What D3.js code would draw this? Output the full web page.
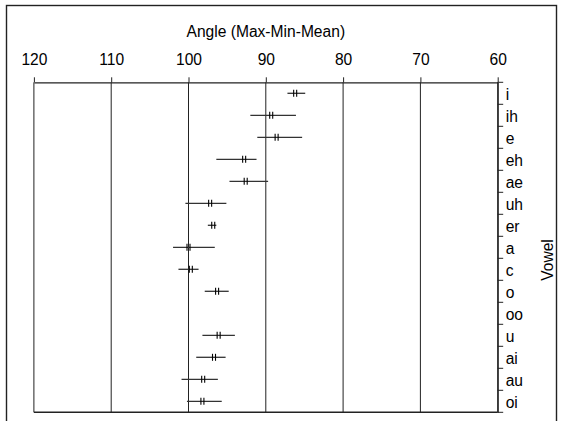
<!DOCTYPE html>
<html>
<head>
<meta charset="utf-8">
<script src="https://cdn.jsdelivr.net/npm/d3@7"></script>
<style>
  html, body { margin: 0; padding: 0; background: #fff; }
  svg { display: block; }
</style>
</head>
<body>
<svg id="chart" width="563" height="421"></svg>
<script>
// Data (angles in degrees)
const vowels = ["i","ih","e","eh","ae","uh","er","a","c","o","oo","u","ai","au","oi"];
const minVals  = [84.9, 86.1, 85.3, 91.2, 89.7, 95.1, 96.4, 96.6, 98.7, 94.8, null, 94.0, 95.2, 96.2, 95.7];
const maxVals  = [87.2, 92.0, 91.1, 96.4, 94.7, 100.4, 97.5, 102.0, 101.3, 97.9, null, 98.2, 99.0, 100.9, 100.2];
const meanVals = [86.2, 89.3, 88.6, 92.8, 92.6, 97.2, 96.8, 100.0, 99.7, 96.3, null, 96.1, 96.7, 98.1, 98.2];
const xTicks = [120, 110, 100, 90, 80, 70, 60];
const xTitle = "Angle (Max-Min-Mean)";
const yTitle = "Vowel";

const FONT = "'Liberation Sans', Arial, sans-serif";
const FS = 15.6;

const svg = d3.select("#chart");

// outer frame
svg.append("rect")
  .attr("x", 6.5).attr("y", 5.5)
  .attr("width", 550).attr("height", 430)
  .attr("fill", "none").attr("stroke", "#222").attr("stroke-width", 1.4);

const pL = 33.9, pR = 497.7, pT = 82.3, pB = 412.3;

const x = d3.scaleLinear().domain([120, 60]).range([pL, pR]);
const y = d3.scaleBand().domain(vowels).range([pT, pB]).paddingInner(0).paddingOuter(0);

// vertical grid lines
svg.append("g").selectAll("line")
  .data(xTicks)
  .join("line")
  .attr("x1", d => x(d)).attr("x2", d => x(d))
  .attr("y1", pT).attr("y2", pB)
  .attr("stroke", "#222").attr("stroke-width", 1);

// bottom line of plot
svg.append("line").attr("x1", pL).attr("x2", pR).attr("y1", pB).attr("y2", pB)
  .attr("stroke", "#222").attr("stroke-width", 1.6);

// top axis
const xAxis = svg.append("g")
  .attr("transform", `translate(0,${pT})`)
  .call(d3.axisTop(x).tickValues(xTicks).tickFormat(d3.format("d")).tickSize(5).tickPadding(12.5).tickSizeOuter(0));
xAxis.select(".domain").attr("stroke", "#222").attr("stroke-width", 1.2);
xAxis.selectAll(".tick line").attr("stroke", "#222");
xAxis.selectAll(".tick text").attr("font-family", FONT).attr("font-size", FS).attr("fill", "#000");

// right axis (labels centered in bands, ticks at band boundaries)
const yAxis = svg.append("g")
  .attr("transform", `translate(${pR},0)`)
  .call(d3.axisRight(y).tickSize(0).tickPadding(8));
yAxis.select(".domain").attr("stroke", "#222").attr("stroke-width", 1.2);
yAxis.selectAll(".tick text").attr("font-family", FONT).attr("font-size", FS).attr("fill", "#000").attr("dy", "0.42em");

const bounds = vowels.map(v => y(v)).concat([y(vowels[vowels.length - 1]) + y.bandwidth()]);
svg.append("g").selectAll("line")
  .data(bounds)
  .join("line")
  .attr("x1", pR).attr("x2", pR + 5.5)
  .attr("y1", d => d).attr("y2", d => d)
  .attr("stroke", "#222").attr("stroke-width", 1);

// error bars
const rows = vowels.map((v, i) => ({v, min: minVals[i], max: maxVals[i], mean: meanVals[i]}))
  .filter(d => d.mean !== null);

const bars = svg.append("g");
bars.selectAll("line.range")
  .data(rows)
  .join("line")
  .attr("class", "range")
  .attr("x1", d => x(d.max)).attr("x2", d => x(d.min))
  .attr("y1", d => y(d.v) + y.bandwidth() / 2).attr("y2", d => y(d.v) + y.bandwidth() / 2)
  .attr("stroke", "#333").attr("stroke-width", 1.3);

[-1.5, 1.5].forEach(off => {
  bars.append("g").selectAll("line")
    .data(rows)
    .join("line")
    .attr("x1", d => x(d.mean) + off).attr("x2", d => x(d.mean) + off)
    .attr("y1", d => y(d.v) + y.bandwidth() / 2 - 3.5)
    .attr("y2", d => y(d.v) + y.bandwidth() / 2 + 3.5)
    .attr("stroke", "#000").attr("stroke-width", 1.1);
});

// titles
svg.append("text")
  .attr("x", (pL + pR) / 2).attr("y", 36.5)
  .attr("text-anchor", "middle")
  .attr("font-family", FONT).attr("font-size", FS).attr("fill", "#000")
  .text(xTitle);

svg.append("text")
  .attr("transform", `translate(553,260) rotate(-90)`)
  .attr("text-anchor", "middle")
  .attr("font-family", FONT).attr("font-size", FS).attr("fill", "#000")
  .text(yTitle);
</script>
</body>
</html>
